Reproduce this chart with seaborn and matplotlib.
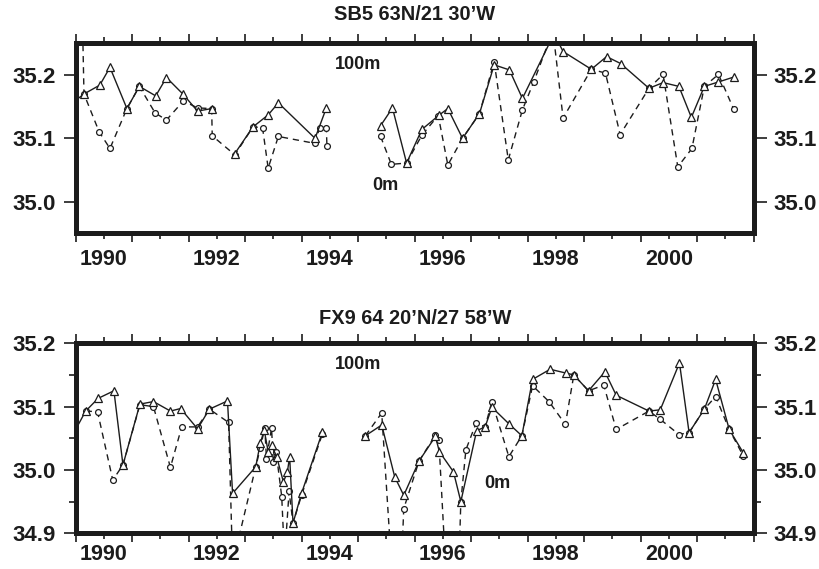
import matplotlib
matplotlib.use("Agg")
import matplotlib.pyplot as plt
from matplotlib.ticker import FixedLocator, FixedFormatter
import pandas as pd
import seaborn as sns

# ---------------------------------------------------------------------------
# Salinity time series at two stations; None marks a break in the record.
# ---------------------------------------------------------------------------
sb5_title = "SB5 63N/21 30\u2019W"
fx9_title = "FX9 64 20\u2019N/27 58\u2019W"

sb5_100m_year = [1989.93, 1990.15, 1990.43, 1990.61, 1990.91, 1991.13, 1991.42, 1991.61,
                 1991.90, 1992.16, 1992.41, None,
                 1992.82, 1993.14, 1993.41, 1993.59, 1994.24, 1994.44, None,
                 1995.40, 1995.61, 1995.86, 1996.13, 1996.44, 1996.59, 1996.85, 1997.15,
                 1997.41, 1997.68, 1997.91, 1998.47, 1998.63, 1999.13, 1999.40, 1999.65,
                 2000.15, 2000.40, 2000.68, 2000.90, 2001.13, 2001.38, 2001.66]
sb5_100m_sal = [35.155, 35.170, 35.184, 35.212, 35.147, 35.182, 35.167, 35.196,
                35.170, 35.143, 35.147, None,
                35.076, 35.118, 35.137, 35.156, 35.100, 35.148, None,
                35.120, 35.148, 35.061, 35.114, 35.137, 35.147, 35.100, 35.139,
                35.216, 35.208, 35.163, 35.265, 35.237, 35.209, 35.229, 35.218,
                35.179, 35.188, 35.182, 35.133, 35.182, 35.189, 35.197]

sb5_0m_year = [1990.12, 1990.15, 1990.42, 1990.61, 1990.91, 1991.13, 1991.41, 1991.61,
               1991.91, 1992.16, 1992.41, 1992.42, 1992.82, 1993.14, 1993.31, 1993.41,
               1993.59, 1994.24, 1994.32, 1994.44, 1994.45, None,
               1995.40, 1995.59, 1995.86, 1996.13, 1996.42, 1996.59, 1996.85, 1997.15,
               1997.41, 1997.66, 1997.91, 1998.11, 1998.45, 1998.63, 1999.13, 1999.38,
               1999.64, 2000.15, 2000.40, 2000.66, 2000.91, 2001.13, 2001.38, 2001.65]
sb5_0m_sal = [35.300, 35.170, 35.110, 35.084, 35.147, 35.182, 35.140, 35.129,
              35.159, 35.148, 35.147, 35.104, 35.074, 35.118, 35.117, 35.053,
              35.103, 35.092, 35.117, 35.117, 35.088, None,
              35.103, 35.059, 35.061, 35.105, 35.136, 35.058, 35.100, 35.139,
              35.221, 35.066, 35.145, 35.189, 35.270, 35.132, 35.209, 35.203,
              35.106, 35.179, 35.201, 35.055, 35.084, 35.182, 35.201, 35.146]

fx9_100m_year = [1989.93, 1990.18, 1990.40, 1990.68, 1990.84, 1991.14, 1991.38, 1991.68,
                 1991.86, 1992.16, 1992.37, 1992.69, 1992.78, 1993.19, 1993.27, 1993.34,
                 1993.41, 1993.47, 1993.56, 1993.68, 1993.75, 1993.79, 1993.85, 1994.00,
                 1994.37, None,
                 1995.13, 1995.42, 1995.65, 1995.81, 1996.08, 1996.37, 1996.44, 1996.69,
                 1996.82, 1997.10, 1997.25, 1997.37, 1997.67, 1997.90, 1998.09, 1998.40,
                 1998.68, 1998.82, 1999.08, 1999.37, 1999.57, 2000.15, 2000.35, 2000.69,
                 2000.86, 2001.13, 2001.33, 2001.57, 2001.82]
fx9_100m_sal = [35.052, 35.093, 35.113, 35.125, 35.008, 35.104, 35.108, 35.093,
                35.097, 35.065, 35.096, 35.109, 34.963, 35.005, 35.042, 35.063,
                35.029, 35.039, 35.021, 34.981, 34.997, 35.021, 34.916, 34.963,
                35.060, None,
                35.054, 35.071, 34.989, 34.960, 35.014, 35.053, 35.029, 34.997,
                34.950, 35.062, 35.068, 35.099, 35.073, 35.054, 35.143, 35.159,
                35.153, 35.150, 35.125, 35.155, 35.118, 35.093, 35.095, 35.169,
                35.059, 35.096, 35.143, 35.064, 35.027]

fx9_0m_year = [1990.18, 1990.39, 1990.66, 1990.84, 1991.14, 1991.38, 1991.68, 1991.88,
               1992.16, 1992.37, 1992.71, 1992.78, 1993.19, 1993.27, 1993.35, 1993.38,
               1993.47, 1993.50, 1993.55, 1993.65, 1993.70, 1993.78, 1993.85, 1994.00,
               1994.37, None,
               1995.13, 1995.42, 1995.70, 1995.81, 1996.08, 1996.37, 1996.43, 1996.70,
               1996.82, 1996.91, 1997.09, 1997.25, 1997.37, 1997.67, 1997.90, 1998.09,
               1998.38, 1998.67, 1998.82, 1999.08, 1999.35, 1999.57, 2000.15, 2000.35,
               2000.68, 2000.86, 2001.13, 2001.33, 2001.57, 2001.82]
fx9_0m_sal = [35.093, 35.092, 34.984, 35.008, 35.103, 35.100, 35.004, 35.068,
              35.068, 35.096, 35.075, 34.852, 35.005, 35.034, 35.067, 35.018,
              35.066, 35.013, 35.029, 34.958, 34.860, 34.966, 34.916, 34.960,
              35.057, None,
              35.054, 35.090, 34.700, 34.939, 35.014, 35.055, 35.048, 34.600,
              34.950, 35.032, 35.074, 35.068, 35.108, 35.021, 35.054, 35.133,
              35.108, 35.072, 35.150, 35.125, 35.134, 35.064, 35.093, 35.080,
              35.056, 35.059, 35.096, 35.116, 35.064, 35.022]

year_labels = ["1990", "1992", "1994", "1996", "1998", "2000"]
sb5_yticks = [35.0, 35.1, 35.2]
fx9_yticks = [34.9, 35.0, 35.1, 35.2]

INK = "#1c1c1c"


def to_frame(years, values):
    """Long table with a segment id that increments at each None gap."""
    rows, seg = [], 0
    for x, v in zip(years, values):
        if v is None:
            seg += 1
            continue
        rows.append((x, v, seg))
    return pd.DataFrame(rows, columns=["year", "salinity", "seg"])


def draw_series(ax, years, values, marker, linestyle, ms):
    df = to_frame(years, values)
    sns.lineplot(data=df, x="year", y="salinity", units="seg", estimator=None,
                 sort=False, ax=ax, color=INK, linewidth=1.0, linestyle=linestyle,
                 marker=marker, markersize=ms, markerfacecolor="white",
                 markeredgecolor=INK, markeredgewidth=0.9, legend=False)


def style_axes(ax, ylim, yticks, xpad):
    ax.set_xlim(1990, 2002)
    ax.set_ylim(*ylim)
    ax.set_xlabel("")
    ax.set_ylabel("")
    for sp in ax.spines.values():
        sp.set_visible(True)
        sp.set_linewidth(3.6)
        sp.set_color(INK)
    # whole years get the long ticks; labels sit mid-year under every other year
    ax.xaxis.set_major_locator(FixedLocator(list(range(1990, 2003))))
    ax.xaxis.set_major_formatter(FixedFormatter([""] * 13))
    half = [y + 0.5 for y in range(1990, 2002)]
    ax.xaxis.set_minor_locator(FixedLocator(half))
    minor_lbls = [str(int(h - 0.5)) if str(int(h - 0.5)) in year_labels else "" for h in half]
    ax.xaxis.set_minor_formatter(FixedFormatter(minor_lbls))
    ax.yaxis.set_major_locator(FixedLocator(yticks))
    ax.yaxis.set_major_formatter(FixedFormatter([f"{t:.1f}" for t in yticks]))
    ymin, ymax = ylim
    yminor = [round(ymin + 0.05 + 0.1 * i, 3) for i in range(int(round((ymax - ymin) / 0.1)) + 1)]
    ax.yaxis.set_minor_locator(FixedLocator([t for t in yminor if ymin <= t <= ymax]))
    ax.tick_params(axis="both", which="both", direction="out", top=True, right=True,
                   labelright=True, colors=INK, width=1.2)
    ax.tick_params(axis="x", which="major", length=6.5, labelbottom=False)
    ax.tick_params(axis="x", which="minor", length=4.5, labelsize=15.5, pad=xpad)
    ax.tick_params(axis="y", which="major", length=9, labelsize=16, pad=5)
    ax.tick_params(axis="y", which="minor", length=5.3)
    for lbl in ax.get_xticklabels(minor=True) + ax.get_yticklabels():
        lbl.set_fontweight("bold")
        lbl.set_color(INK)


sns.set_theme(style="ticks")
plt.rcParams["font.family"] = ["Liberation Sans", "DejaVu Sans"]

fig = plt.figure(figsize=(8.19, 5.69), dpi=100)
fig.patch.set_facecolor("white")
ax_top = fig.add_axes([75.5 / 819, 1 - 233.4 / 569, 678 / 819, 190.1 / 569])
ax_bot = fig.add_axes([75.5 / 819, 1 - 533.3 / 569, 678 / 819, 190.0 / 569])

draw_series(ax_top, sb5_0m_year, sb5_0m_sal, "o", (0, (4.5, 3.5)), 4.2)
draw_series(ax_top, sb5_100m_year, sb5_100m_sal, "^", "-", 5.2)
draw_series(ax_bot, fx9_0m_year, fx9_0m_sal, "o", (0, (4.5, 3.5)), 4.2)
draw_series(ax_bot, fx9_100m_year, fx9_100m_sal, "^", "-", 5.2)

style_axes(ax_top, (34.95, 35.25), sb5_yticks, 7.0)
style_axes(ax_bot, (34.9, 35.2), fx9_yticks, 3.5)

depth_kw = dict(ha="center", va="center", fontsize=13, fontweight="bold", color=INK)
ax_top.text(1995.0, 35.216, "100m", **depth_kw)
ax_top.text(1995.48, 35.026, "0m", **depth_kw)
ax_bot.text(1995.0, 35.166, "100m", **depth_kw)
ax_bot.text(1997.47, 34.978, "0m", **depth_kw)

title_kw = dict(ha="center", va="center", fontsize=14.4, fontweight="bold", color=INK)
fig.text(415 / 819, 1 - 15 / 569, sb5_title, **title_kw)
fig.text(415 / 819, 1 - 318 / 569, fx9_title, **title_kw)

fig.savefig("out.png", dpi=100, facecolor="white")
